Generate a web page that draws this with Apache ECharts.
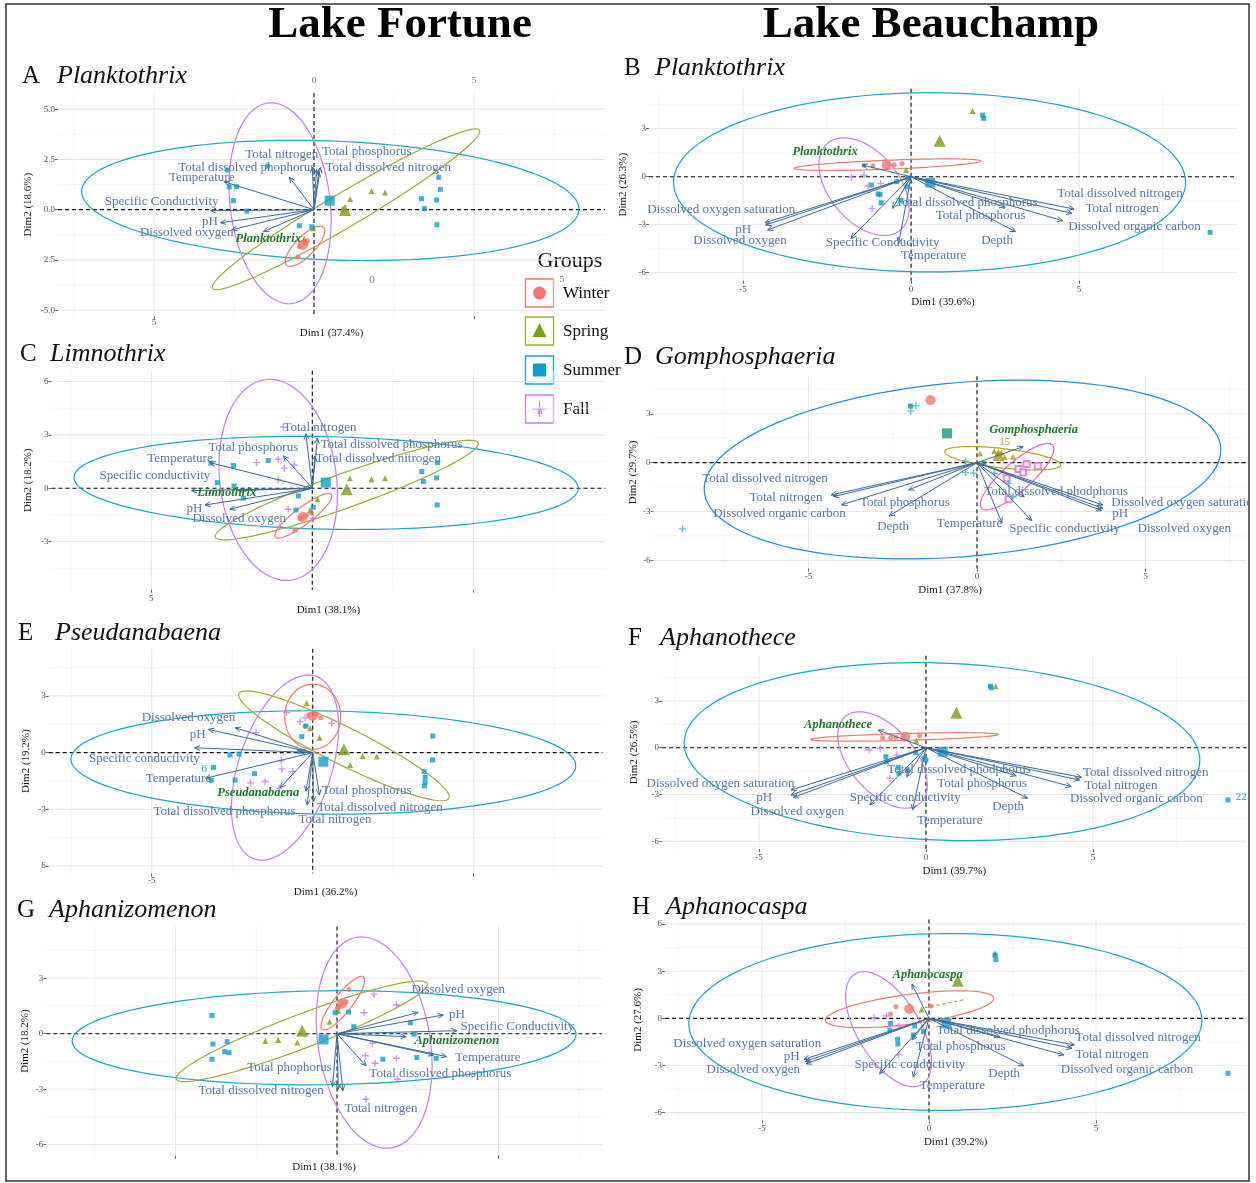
<!DOCTYPE html>
<html><head><meta charset="utf-8">
<script src="https://cdn.jsdelivr.net/npm/echarts@6.0.0/dist/echarts.min.js"></script>
<style>html,body{margin:0;padding:0;background:#fff}#c{width:1256px;height:1183px}</style>
</head><body><div id="c"></div>
<script>
// ---------------- DATA ----------------
// group index: 0 Winter, 1 Spring, 2 Summer, 3 Fall, 4 extra (+)
// Panel A  Lake Fortune - Planktothrix
const winterA = [[-0.3,-1.6],[-0.45,-1.85],[-0.25,-1.7],[-0.5,-2.35],[-0.2,-1.55]];
const springA = [[1.13,0.53],[1.8,0.93],[2.22,0.86],[0.9,0.05],[-0.02,-0.93],[-0.31,-1.46]];
const summerA = [[-2.71,1.97],[-2.65,1.14],[-2.42,1.14],[-2.52,0.45],[-2.1,-0.07],[-0.46,-0.8],[-0.07,-0.85],[-1.45,2.17],[3.9,1.61],[3.95,1.01],[3.36,0.55],[3.45,0.05],[3.83,0.48],[3.84,-0.75]];
const fallA = [];
const meansA = [[0,-0.35,-1.75],[1,0.97,-0.02],[2,0.49,0.45]];
const vecA = [[-0.05,2.12],[0.2,2.1],[0.08,2.0],[0.15,1.9],[-0.77,1.61],[-2.81,1.39],[-3.23,-0.05],[-2.92,-0.65],[-2.57,-1.0],[-1.58,-1.09]];
const labelsA = [['Total nitrogen',-1.01,2.75],['Total phosphorus',1.65,2.87],['Total dissolved phophorus',-2.1,2.1],['Total dissolved nitrogen',2.32,2.1],['Temperature',-3.51,1.61],['Specific Conductivity',-4.76,0.4],['pH',-3.25,-0.58],['Dissolved oxygen',-3.98,-1.13]];
const genusA = ['Planktothrix',-1.43,-1.46];
const ellA = [[2,0.51,0.46,7.77,-0.44,0,2.96],[1,1.0,0.02,4.05,4.0,1.03,0],[0,-0.28,-1.82,0.47,1.0,0.4,0],[3,-1.06,0.32,-0.28,5.0,1.57,0]];
const straysA = [['0',1.81,-3.5,'#777']];
const xTickA = [-5,5], xTickTextA = ['5',''];
const yTickA = [5,2.5,0,-2.5,-5], yTickTextA = ['5.0','2.5','0.0','2.5','-5.0'];

// Panel B  Lake Beauchamp - Planktothrix
const winterB = [[-1.13,0.67],[-0.27,0.83],[-1.4,0.7],[-0.5,0.75]];
const springB = [[1.83,4.1],[-0.15,0.42]];
const summerB = [[2.13,3.85],[2.16,3.65],[8.9,-3.48],[-1.18,-0.52],[-0.98,-1.08],[-0.92,-1.12],[-0.89,-1.63],[-0.3,-1.52],[-0.43,-0.31],[-0.12,-0.63],[-0.1,-0.1]];
const fallB = [[-1.77,-0.04],[-1.4,0.1],[-1.28,-0.58],[-0.91,-0.42],[-1.16,-1.98]];
const meansB = [[0,-0.73,0.73],[1,0.85,2.25],[2,0.57,-0.37]];
const vecB = [[-4.35,-2.88],[-4.33,-3.02],[-4.27,-3.33],[-1.79,-3.85],[-0.37,-4.17],[-0.55,-1.98],[2.8,-1.9],[3.11,-3.44],[4.85,-2.02],[4.79,-2.29],[4.51,-2.75],[-1.46,0.73]];
const labelsB = [['Total dissolved nitrogen',6.22,-1.08],['Total nitrogen',6.28,-1.98],['Dissolved organic carbon',6.65,-3.13],['Total dissolved phosphorus',1.65,-1.63],['Total phosphorus',2.07,-2.4],['Depth',2.56,-4.0],['Temperature',0.67,-4.9],['Specific Conductivity',-0.85,-4.13],['Dissolved oxygen saturation',-5.65,-2.04],['pH',-5.0,-3.33],['Dissolved oxygen',-5.09,-4.0]];
const genusB = ['Planktothrix',-2.56,1.56];
const ellB = [[2,0.55,-0.35,7.62,0,0,5.6],[0,-0.7,0.75,2.78,0.23,0,0.28],[3,-1.4,-0.62,-0.6,3.05,1.2,0]];
const straysB = [];

// Panel C  Lake Fortune - Limnothrix
const winterC = [[-0.28,-1.6],[-0.38,-1.7],[-0.18,-1.5],[-0.54,-2.38],[-0.02,-1.41]];
const springC = [[1.17,0.56],[1.84,0.51],[2.26,0.56],[0.16,-0.62],[-0.07,-1.22]];
const summerC = [[-3.15,1.41],[-2.45,1.28],[-2.95,0.32],[-2.43,0.13],[-2.14,-0.56],[-0.43,-0.43],[-0.51,-1.22],[0.03,-1.07],[-1.37,1.56],[3.4,0.94],[3.45,0.38],[3.89,1.44],[3.86,0.58],[3.88,-0.94]];
const fallC = [[-0.9,3.43],[-1.73,1.44],[-1.06,1.63],[-0.87,1.13],[-0.56,1.31],[-1.06,0.47],[-0.75,-1.18],[0.03,-1.69],[-1.02,-2.16]];
const meansC = [[0,-0.3,-1.62],[1,1.07,-0.06],[2,0.42,0.32]];
const vecC = [[-0.2,3.06],[0.16,2.81],[0.08,1.82],[-0.9,1.82],[-3.18,1.44],[-3.75,-0.13],[-2.3,-0.13],[-3.33,-0.94],[-2.56,-1.18]];
const labelsC = [['Total nitrogen',0.24,3.41],['Total dissolved phosphorus',2.46,2.48],['Total dissolved nitrogen',2.05,1.65],['Total phosphorus',-1.83,2.31],['Temperature',-4.11,1.69],['Specific conductivity',-4.89,0.69],['pH',-3.66,-1.13],['Dissolved oxygen',-2.27,-1.73]];
const genusC = ['Limnothrix',-2.66,-0.28];
const ellC = [[2,0.43,0.3,7.83,-0.3,0,2.6],[1,1.07,-0.1,3.8,2.8,1.5,0],[0,-0.28,-1.55,0.78,1.25,0.42,0],[3,-1.06,0.47,-0.26,5.65,1.82,0]];
const straysC = [];
const xTickC = [-5,5], xTickTextC = ['5',''];

// Panel D  Lake Beauchamp - Gomphosphaeria
const winterD = [];
const springD = [[0.09,0.57],[0.51,0.71],[0.82,0.33],[1.07,0.37],[0.6,0.55],[0.72,0.62]];
const summerD = [[-1.97,3.47],[0.2,-0.05]];
const fallD = [[1.47,-0.08],[1.8,-0.2],[1.23,-0.39],[0.88,-0.96],[0.94,-2.24],[1.37,-0.61]];
const extraD = [[-1.81,3.49],[-1.97,3.16],[-8.74,-4.06],[-0.34,-0.61],[-0.1,-0.65],[0.51,-0.65],[0.94,-1.27],[1.07,-2.08],[-0.34,0.1]];
const meansD = [[0,-1.38,3.84],[2,-0.89,1.8],[1,0.64,0.47]];
const vecD = [[-4.33,-1.98],[-4.26,-2.08],[-4.02,-2.59],[-2.03,-1.67],[-2.61,-3.27],[0.74,-3.71],[1.62,-3.55],[3.73,-2.59],[3.73,-2.8],[3.7,-2.94],[1.4,-2.1],[1.37,0.98]];
const labelsD = [['Total dissolved nitrogen',-6.29,-1.0],['Total nitrogen',-5.67,-2.12],['Dissolved organic carbon',-5.86,-3.14],['Total phosphorus',-2.14,-2.43],['Depth',-2.49,-3.92],['Temperature',-0.22,-3.71],['Specific conductivity',2.6,-4.02],['Total dissolved phodphorus',2.35,-1.78],['Dissolved oxygen saturation',6.18,-2.43],['pH',4.25,-3.14],['Dissolved oxygen',6.15,-4.02]];
const genusD = ['Gomphosphaeria',1.68,2.0];
const ellD = [[2,-0.43,-0.42,7.66,0.99,0.3,5.4],[1,0.76,0.27,1.72,-0.4,0,0.6],[3,1.19,-0.86,0.91,2.04,0.6,0]];
const straysD = [['15',0.82,1.29,'#b3a52a']];

// Panel E  Lake Fortune - Pseudanabaena
const winterE = [[0.25,1.85],[-0.24,1.38],[-0.13,2.0],[0.12,2.05]];
const springE = [[1.55,-0.18],[1.99,-0.21],[1.16,-0.65],[0.21,0.79],[-0.08,1.29],[-0.19,2.61]];
const summerE = [[3.73,0.88],[3.72,-0.39],[3.46,-1.0],[3.49,-1.31],[3.49,-1.57],[3.47,-1.76],[-2.57,-0.12],[-2.29,-0.07],[-3.08,-0.78],[-3.15,-1.48],[-2.41,-1.45],[-1.81,-1.11],[-0.41,0.05],[-0.21,1.41],[-0.34,0.85]];
const fallE = [[-0.81,2.12],[-0.24,1.85],[-0.39,1.64],[-1.76,1.06],[-0.98,-0.42],[-0.96,-0.86],[-0.62,-1.0],[-1.93,-1.59],[-1.48,-1.53],[-1.04,-1.89],[0.59,1.55]];
const meansE = [[0,0,1.94],[1,0.97,0.18],[2,0.33,-0.48]];
const vecE = [[-2.41,1.32],[-3.24,1.23],[-3.67,0.26],[-3.34,-1.36],[-1.01,-1.85],[-0.21,-2.03],[-0.17,-2.77],[0.02,-2.6],[0.21,-2.24],[-0.4,0.05]];
const labelsE = [['Dissolved oxygen',-3.86,1.85],['pH',-3.57,0.93],['Specific conductivity',-5.23,-0.34],['Temperature',-4.17,-1.39],['Total dissolved phosphorus',-2.74,-3.12],['Total phosphorus',1.68,-2.01],['Total dissolved nitrogen',2.09,-2.89],['Total nitrogen',0.69,-3.56]];
const genusE = ['Pseudanabaena',-1.69,-2.12];
const ellE = [[2,0.33,-0.52,7.84,-0.18,0,2.73],[0,0,1.9,0.87,0,0,1.72],[1,0.97,0.36,3.27,-2.69,0,1.1],[3,-0.86,-0.79,0.72,4.9,1.5,0]];
const straysE = [['6',-3.37,-0.86,'#1aa0c8']];
const xTickE = [-5,5], xTickTextE = ['-5',''];
const yTickE = [3,0,-3,-6], yTickTextE = ['3','0','-3','6'];

// Panel F  Lake Beauchamp - Aphanothece
const winterF = [[-1.06,0.64],[-1.3,0.64],[-0.19,0.77],[-0.9,0.66]];
const springF = [[2.09,3.94],[-0.29,0.45]];
const summerF = [[1.93,3.94],[1.95,3.85],[9.04,-3.35],[-0.06,-0.68],[0.0,-0.78],[-0.31,-0.32],[-0.56,-1.43],[-0.83,-1.26],[-0.81,-1.64],[-1.2,-0.58],[-1.18,-0.9]];
const fallF = [[-1.7,-0.15],[-1.37,-0.04],[-1.08,-1.96],[-0.87,-0.47]];
const meansF = [[0,-0.62,0.7],[1,0.91,2.24],[2,0.5,-0.26]];
const vecF = [[-1.43,1.13],[-4.04,-2.71],[-4.04,-3.03],[-3.98,-3.2],[-1.68,-3.67],[-0.4,-3.99],[-0.58,-1.86],[3.04,-3.24],[4.66,-1.9],[4.6,-2.07],[4.35,-2.49],[2.7,-1.8]];
const labelsF = [['Dissolved oxygen saturation',-6.15,-2.28],['pH',-4.84,-3.2],['Dissolved oxygen',-3.85,-4.09],['Specific conductivity',-0.62,-3.2],['Temperature',0.71,-4.67],['Total dissolved phodphorus',0.99,-1.43],['Total phosphorus',1.68,-2.28],['Depth',2.46,-3.77],['Total dissolved nitrogen',6.58,-1.6],['Total nitrogen',5.84,-2.45],['Dissolved organic carbon',6.3,-3.28]];
const genusF = ['Aphanothece',-2.63,1.45];
const ellF = [[2,0.48,-0.25,7.72,-0.55,0,5.68],[0,-0.64,0.69,2.81,0.16,0,0.22],[3,-1.3,-0.79,-0.69,3.09,1.15,0]];
const straysF = [['22',9.44,-3.18,'#1aa0c8']];

// Panel G  Lake Fortune - Aphanizomenon
const winterG = [[0.16,1.64],[0.06,1.45],[0.28,1.73],[0.0,1.35],[0.37,2.39]];
const springG = [[-2.22,-0.4],[-1.82,-0.34],[-1.23,-0.47],[-0.23,0.65],[0.04,1.24]];
const summerG = [[-3.87,0.99],[-3.84,-0.56],[-3.4,-0.43],[-3.48,-0.97],[-3.34,-1.03],[-3.87,-1.38],[-0.06,1.13],[0.36,1.17],[0.52,0.38],[2.27,0.59],[2.39,-0.02],[1.42,-1.38],[2.47,-1.28],[3.07,-1.33]];
const fallG = [[1.14,2.14],[0.84,1.13],[1.84,1.55],[1.1,-0.52],[0.88,-1.19],[1.18,-1.6],[1.84,-1.33],[1.87,-2.46],[0.9,-3.54]];
const meansG = [[0,0.16,1.64],[1,-1.08,0.16],[2,-0.42,-0.31]];
const vecG = [[2.51,1.15],[3.29,1.01],[3.71,0.16],[2.14,-0.16],[3.39,-1.24],[2.99,-1.15],[0.9,-1.74],[-0.14,-2.86],[0.04,-3.0],[0.18,-3.09]];
const labelsG = [['Dissolved oxygen',3.75,2.36],['pH',3.71,1.04],['Specific Conductivity',5.58,0.41],['Temperature',4.67,-1.29],['Total dissolved phosphorus',3.2,-2.14],['Total phophorus',-1.47,-1.82],['Total dissolved nitrogen',-2.35,-3.09],['Total nitrogen',1.36,-4.03]];
const genusG = ['Aphanizomenon',3.71,-0.4];
const ellG = [[2,-0.4,-0.22,7.8,0.18,0,2.54],[1,-1.09,0.13,3.63,2.72,1.4,0],[0,0.18,1.65,0.58,1.45,0.35,0],[3,1.15,-0.48,-0.39,5.71,1.75,0]];
const straysG = [];
const xTickG = [-5,5], xTickTextG = ['',''];

// Panel H  Lake Beauchamp - Aphanocaspa
const winterH = [[-0.99,0.74],[-1.15,0.28],[0.06,0.78]];
const springH = [[1.98,4.13],[-0.22,0.57]];
const summerH = [[1.98,4.03],[2.0,3.75],[8.95,-3.5],[-1.15,-0.32],[-1.17,-0.74],[-0.43,-0.49],[-0.94,-1.33],[-0.93,-1.63],[-0.47,-1.06],[-0.16,-0.85]];
const fallH = [[-1.64,0.04],[-1.27,0.15],[-0.9,-0.49],[-0.9,-2.33]];
const meansH = [[0,-0.59,0.59],[1,0.86,2.39],[2,0.52,-0.32]];
const vecH = [[-0.51,2.18],[-3.74,-2.61],[-3.7,-2.75],[-3.68,-2.9],[-1.48,-3.54],[-0.47,-3.75],[-0.51,-1.38],[2.12,-1.17],[2.84,-3.03],[4.35,-1.69],[4.28,-1.91],[4.04,-2.33]];
const labelsH = [['Dissolved oxygen saturation',-5.44,-1.59],['pH',-4.11,-2.44],['Dissolved oxygen',-5.26,-3.28],['Specific conductivity',-0.57,-2.97],['Temperature',0.7,-4.3],['Total phosphorus',0.95,-1.8],['Total dissolved phodphorus',2.37,-0.78],['Depth',2.25,-3.5],['Total dissolved nitrogen',6.26,-1.21],['Total nitrogen',5.48,-2.29],['Dissolved organic carbon',5.93,-3.28]];
const genusH = ['Aphanocaspa',-0.04,2.75];
const ellH = [[2,0.49,-0.23,7.68,0.1,0,5.63],[0,-0.58,0.58,2.52,0.69,0,0.95],[3,-1.21,-0.69,-0.74,3.66,1.05,0],[1,0.4,0.9,0.62,0.27,0,0]];
const straysH = [];

// shared ticks
const xTickR = [-5,0,5], xTickTextR = ['-5','0','5'];
const yTick3 = [6,3,0,-3,-6], yTickText3 = ['6','3','0','-3','-6'];
const xMajor = [-5,0,5], xMinor = [-7.5,-2.5,2.5,7.5];
const yMajorA = [-5,-2.5,0,2.5,5], yMinorA = [-3.75,-1.25,1.25,3.75];
const yMajor3 = [-6,-3,0,3,6], yMinor3 = [-4.5,-1.5,1.5,4.5];
const groupNames = ['Winter','Spring','Summer','Fall'];

// ---------------- LAYOUT / STYLE ----------------
const FONT = '"Liberation Serif","DejaVu Serif",serif';
const PT_COL = ['#F8766D','#7a9e14','#0fa0c8','#c77cff','#44aee3'];
const EL_COL = ['#ef7b6e','#a2aa3c','#1ba6c9','#c680ea'];
const ARROW = '#3c6a9e', LABEL = '#5779ad', GENUS = '#1f7a2e';
const PLUS = 'path://M4,0H6V4H10V6H6V10H4V6H0V4H4Z';
const FRAME_CLIP = {type:'rect', shape:{x:7, y:0, width:1241, height:1183}};

const PANELS = [
 {pts:[winterA,springA,summerA,fallA,[]],means:meansA,vec:vecA,labels:labelsA,genus:genusA,ell:ellA,strays:straysA,
  box:[58,93.1,547.2,223.1],x:[-8.0,9.1],y:[-5.3,5.8],xt:xTickA,xtt:xTickTextA,yt:yTickA,ytt:yTickTextA,ymaj:yMajorA,ymin:yMinorA,xName:'Dim1 (37.4%)',yName:'Dim2 (18.6%)',xGap:11,yGap:24,xMargin:2},
 {pts:[winterB,springB,summerB,fallB,[]],means:meansB,vec:vecB,labels:labelsB,genus:genusB,ell:ellB,strays:straysB,
  box:[649,88.7,588,192],x:[-7.8,9.7],y:[-6.5,5.5],xt:xTickR,xtt:xTickTextR,yt:yTick3,ytt:yTickText3,ymaj:yMajor3,ymin:yMinor3,xName:'Dim1 (39.6%)',yName:'Dim2 (26.3%)',xGap:16,yGap:20,xMargin:4},
 {pts:[winterC,springC,summerC,fallC,[]],means:meansC,vec:vecC,labels:labelsC,genus:genusC,ell:ellC,strays:straysC,
  box:[51.5,370.8,553.8,218.9],x:[-8.1,9.1],y:[-5.7,6.6],xt:xTickC,xtt:xTickTextC,yt:yTick3,ytt:yTickText3,ymaj:yMajor3,ymin:yMinor3,xName:'Dim1 (38.1%)',yName:'Dim2 (18.2%)',xGap:15,yGap:18,xMargin:4},
 {pts:[winterD,springD,summerD,fallD,extraD],means:meansD,vec:vecD,labels:labelsD,genus:genusD,ell:ellD,strays:straysD,
  box:[653.5,376.3,593.1,192.3],x:[-9.6,8.0],y:[-6.5,5.3],xt:xTickR,xtt:xTickTextR,yt:yTick3,ytt:yTickText3,ymaj:yMajor3,ymin:yMinor3,xName:'Dim1 (37.8%)',yName:'Dim2 (29.7%)',xGap:16,yGap:15,xMargin:4,
  pcol:{1:'#a69b17',2:'#15967a',3:'#dd6fd0'},ecol:{0:'#1f8fd6',1:'#b5a41c',2:'#1f8fd6',3:'#e065d0'},fallSym:'emptyRect'},
 {pts:[winterE,springE,summerE,fallE,[]],means:meansE,vec:vecE,labels:labelsE,genus:genusE,ell:ellE,strays:straysE,
  box:[48.7,648.7,553.8,224.9],x:[-8.2,9.0],y:[-6.4,5.5],xt:xTickE,xtt:xTickTextE,yt:yTickE,ytt:yTickTextE,ymaj:yMajor3,ymin:yMinor3,xName:'Dim1 (36.2%)',yName:'Dim2 (19.2%)',xGap:10,yGap:17,xMargin:3},
 {pts:[winterF,springF,summerF,fallF,[]],means:meansF,vec:vecF,labels:labelsF,genus:genusF,ell:ellF,strays:straysF,
  box:[662.1,655.7,584.5,193.4],x:[-7.9,9.6],y:[-6.5,5.9],xt:xTickR,xtt:xTickTextR,yt:yTick3,ytt:yTickText3,ymaj:yMajor3,ymin:yMinor3,xName:'Dim1 (39.7%)',yName:'Dim2 (26.5%)',xGap:17,yGap:22,xMargin:4},
 {pts:[winterG,springG,summerG,fallG,[]],means:meansG,vec:vecG,labels:labelsG,genus:genusG,ell:ellG,strays:straysG,
  box:[46.3,926.4,555.6,229.4],x:[-9.0,8.2],y:[-6.6,5.8],xt:xTickG,xtt:xTickTextG,yt:yTick3,ytt:yTickText3,ymaj:yMajor3,ymin:yMinor3,xName:'Dim1 (38.1%)',yName:'Dim2 (18.2%)',xGap:6,yGap:16,xMargin:3},
 {pts:[winterH,springH,summerH,fallH,[]],means:meansH,vec:vecH,labels:labelsH,genus:genusH,ell:ellH,strays:straysH,
  box:[665.1,919.4,581.2,201],x:[-7.9,9.5],y:[-6.5,6.3],xt:xTickR,xtt:xTickTextR,yt:yTick3,ytt:yTickText3,ymaj:yMajor3,ymin:yMinor3,xName:'Dim1 (39.2%)',yName:'Dim2 (27.6%)',xGap:16,yGap:21,xMargin:4}
];

// ---------------- RENDER HELPERS ----------------
function clipOf(cs){ return {type:'rect', shape:{x:cs.x, y:cs.y, width:cs.width, height:cs.height}}; }
function gridRender(params, api){
  const cs = params.coordSys;
  const v = api.value(0), dir = api.value(1), kind = api.value(2);
  let shape;
  if (dir === 0){ const p = api.coord([v, 0]); if (p[0] < cs.x || p[0] > cs.x+cs.width) return null; shape = {x1:p[0], y1:cs.y, x2:p[0], y2:cs.y+cs.height}; }
  else { const p = api.coord([0, v]); if (p[1] < cs.y || p[1] > cs.y+cs.height) return null; shape = {x1:cs.x, y1:p[1], x2:cs.x+cs.width, y2:p[1]}; }
  const style = kind === 2 ? {stroke:'#111', lineWidth:1.1, lineDash:[4,3]} :
               (kind === 0 ? {stroke:'#e6e6e6', lineWidth:1} : {stroke:'#f2f2f2', lineWidth:0.7});
  return {type:'line', shape, style, silent:true};
}
function ellipseRender(cols){
  return function(params, api){
    const cs = params.coordSys;
    const g = api.value(0), cx = api.value(1), cy = api.value(2), ux = api.value(3), uy = api.value(4), vx = api.value(5), vy = api.value(6);
    const degenerate = (vx === 0 && vy === 0);
    const n = degenerate ? 2 : 120, pts = [];
    for (let k = 0; k <= n; k++){
      const t = degenerate ? Math.PI * k / n : 2 * Math.PI * k / n;
      pts.push(api.coord([cx + ux*Math.cos(t) + vx*Math.sin(t), cy + uy*Math.cos(t) + vy*Math.sin(t)]));
    }
    return {type:'polyline', shape:{points:pts}, clipPath:clipOf(cs), silent:true,
      style:{stroke:cols[g], fill:'none', lineWidth:1.2, lineDash: degenerate ? [3,3] : null}};
  };
}
function arrowRender(params, api){
  const cs = params.coordSys;
  const o = api.coord([0,0]), e = api.coord([api.value(0), api.value(1)]);
  const ang = Math.atan2(e[1]-o[1], e[0]-o[0]), L = 6, a = 0.42;
  const h1 = [e[0]-L*Math.cos(ang-a), e[1]-L*Math.sin(ang-a)];
  const h2 = [e[0]-L*Math.cos(ang+a), e[1]-L*Math.sin(ang+a)];
  return {type:'group', clipPath:clipOf(cs), silent:true, children:[
    {type:'line', shape:{x1:o[0], y1:o[1], x2:e[0], y2:e[1]}, style:{stroke:ARROW, lineWidth:1}},
    {type:'polyline', shape:{points:[h1, e, h2]}, style:{stroke:ARROW, lineWidth:1, fill:'none'}}
  ]};
}
function labelRender(list){
  return function(params, api){
    const it = list[params.dataIndex];
    const p = api.coord([it[1], it[2]]);
    let fill = LABEL, font = '13px ' + FONT;
    if (it[3] === 1){ fill = GENUS; font = 'italic bold 12.5px ' + FONT; }
    else if (it[3] === 2){ fill = it[4]; font = '11px ' + FONT; }
    return {type:'group', clipPath:FRAME_CLIP, silent:true, children:[
      {type:'text', x:p[0], y:p[1], silent:true,
       style:{text:it[0], fill:fill, font:font, align:'center', verticalAlign:'middle'}}
    ]};
  };
}
function fmt(ticks, texts){
  return function(v){ const k = ticks.findIndex(t => Math.abs(t - v) < 1e-9); return k >= 0 ? texts[k] : ''; };
}

// ---------------- BUILD OPTION ----------------
const grids = [], xAxes = [], yAxes = [], series = [];
PANELS.forEach((p, i) => {
  grids.push({left:p.box[0], top:p.box[1], width:p.box[2], height:p.box[3], containLabel:false});
  xAxes.push({gridIndex:i, type:'value', min:p.x[0], max:p.x[1],
    axisLine:{show:false, onZero:false}, splitLine:{show:false},
    axisTick:{show:true, customValues:p.xt, length:3, lineStyle:{color:'#444', width:0.8}},
    axisLabel:{customValues:p.xt, formatter:fmt(p.xt, p.xtt), fontSize:9, color:'#555', fontFamily:FONT, margin:p.xMargin},
    name:p.xName, nameLocation:'middle', nameGap:p.xGap, nameTextStyle:{fontFamily:FONT, fontSize:11, color:'#1a1a1a'}});
  yAxes.push({gridIndex:i, type:'value', min:p.y[0], max:p.y[1],
    axisLine:{show:false, onZero:false}, splitLine:{show:false},
    axisTick:{show:true, customValues:p.yt, length:3, lineStyle:{color:'#444', width:0.8}},
    axisLabel:{customValues:p.yt, formatter:fmt(p.yt, p.ytt), fontSize:9, color:'#555', fontFamily:FONT, margin:3},
    name:p.yName, nameLocation:'middle', nameGap:p.yGap, nameRotate:90, nameTextStyle:{fontFamily:FONT, fontSize:11, color:'#1a1a1a'}});

  const gdata = [];
  xMinor.forEach(v => gdata.push([v,0,1])); p.ymin.forEach(v => gdata.push([v,1,1]));
  xMajor.forEach(v => gdata.push([v,0,0])); p.ymaj.forEach(v => gdata.push([v,1,0]));
  series.push({type:'custom', xAxisIndex:i, yAxisIndex:i, renderItem:gridRender, data:gdata, z:0, silent:true});

  const ecols = EL_COL.map((c, k) => (p.ecol && p.ecol[k]) || c);
  series.push({type:'custom', xAxisIndex:i, yAxisIndex:i, renderItem:ellipseRender(ecols), data:p.ell, z:3, silent:true});

  const pcols = PT_COL.map((c, k) => (p.pcol && p.pcol[k]) || c);
  const syms = ['circle','triangle','rect', p.fallSym || PLUS, PLUS];
  const sizes = [5,6,5, p.fallSym ? 6 : 7, 7];
  p.pts.forEach((arr, g) => {
    if (!arr.length) return;
    series.push({type:'scatter', name:(groupNames[g]||'extra'), xAxisIndex:i, yAxisIndex:i, data:arr, symbol:syms[g], symbolSize:sizes[g],
      itemStyle: syms[g] === 'emptyRect' ? {color:pcols[g], borderColor:pcols[g], borderWidth:1} : {color:pcols[g]}, z:4, silent:true});
  });
  p.means.forEach(m => {
    const g = m[0];
    series.push({type:'scatter', xAxisIndex:i, yAxisIndex:i, data:[[m[1], m[2]]], symbol:syms[g], symbolSize: g === 1 ? 12 : 10,
      itemStyle:{color:pcols[g]}, z:4, silent:true});
  });

  series.push({type:'custom', xAxisIndex:i, yAxisIndex:i, renderItem:gridRender, data:[[0,0,2],[0,1,2]], z:2, silent:true});
  series.push({type:'custom', xAxisIndex:i, yAxisIndex:i, renderItem:arrowRender, data:p.vec, z:5, silent:true});

  const lab = p.labels.map(l => [l[0], l[1], l[2], 0])
    .concat([[p.genus[0], p.genus[1], p.genus[2], 1]])
    .concat(p.strays.map(s => [s[0], s[1], s[2], 2, s[3]]));
  series.push({type:'custom', xAxisIndex:i, yAxisIndex:i, renderItem:labelRender(lab), data:lab.map(l => [l[1], l[2]]), z:6, silent:true});
});
// top stray axis labels of panel A
xAxes.push({gridIndex:0, type:'value', position:'top', min:PANELS[0].x[0], max:PANELS[0].x[1],
  axisLine:{show:false, onZero:false}, splitLine:{show:false}, axisTick:{show:false},
  axisLabel:{customValues:[0,5], formatter:fmt([0,5],['0','5']), fontSize:9, color:'#777', fontFamily:FONT, margin:8}});

// ---------------- GRAPHICS: titles, panel headings, legend, frame ----------------
const headings = [['A','Planktothrix',22,57,76],['B','Planktothrix',624,655,68],['C','Limnothrix',20,50,354],['D','Gomphosphaeria',624,655,357],
                  ['E','Pseudanabaena',18,55,633],['F','Aphanothece',628,660,638],['G','Aphanizomenon',17,49,910],['H','Aphanocaspa',632,666,907]];
const gfx = [];
gfx.push({type:'rect', shape:{x:6, y:4, width:1243, height:1177}, style:{stroke:'#333', fill:'none', lineWidth:1.5}, z:100, silent:true});
function txt(x, y, text, font, fill, align){
  return {type:'text', x:x, y:y, silent:true, style:{text:text, font:font, fill:fill||'#111', align:align||'left', verticalAlign:'middle'}};
}
gfx.push(txt(400, 25, 'Lake Fortune', 'bold 45px ' + FONT, '#000', 'center'));
gfx.push(txt(931, 25, 'Lake Beauchamp', 'bold 45px ' + FONT, '#000', 'center'));
headings.forEach(h => {
  gfx.push(txt(h[2], h[4], h[0], '25px ' + FONT, '#111', 'left'));
  gfx.push(txt(h[3], h[4], h[1], 'italic 26px ' + FONT, '#111', 'left'));
});
// legend
gfx.push(txt(570, 261, 'Groups', '22px ' + FONT, '#111', 'center'));
gfx.push(txt(562, 280, '5', '9px ' + FONT, '#777', 'center'));
const legY = [293, 331, 370, 409];
legY.forEach((cy, g) => {
  gfx.push({type:'rect', shape:{x:525.5, y:cy-14, width:28, height:28}, style:{stroke:EL_COL[g], fill:'#fff', lineWidth:1.3}, silent:true});
  if (g === 0) gfx.push({type:'circle', shape:{cx:539.5, cy:cy, r:6.5}, style:{fill:PT_COL[0]}, silent:true});
  if (g === 1) gfx.push({type:'polygon', shape:{points:[[539.5,cy-8],[546.5,cy+6],[532.5,cy+6]]}, style:{fill:PT_COL[1]}, silent:true});
  if (g === 2) gfx.push({type:'rect', shape:{x:533, y:cy-6.5, width:13, height:13}, style:{fill:PT_COL[2]}, silent:true});
  if (g === 3){
    gfx.push({type:'line', shape:{x1:532, y1:cy, x2:547, y2:cy}, style:{stroke:PT_COL[3], lineWidth:1}, silent:true});
    gfx.push({type:'line', shape:{x1:539.5, y1:cy-8, x2:539.5, y2:cy+8}, style:{stroke:PT_COL[3], lineWidth:1}, silent:true});
    gfx.push(txt(540, cy+2, 'a', '13px ' + FONT, PT_COL[3], 'center'));
  }
  gfx.push(txt(563, cy+1, groupNames[g], '17px ' + FONT, '#111', 'left'));
});

const chart = echarts.init(document.getElementById('c'), null, {renderer:'canvas'});
chart.setOption({
  backgroundColor:'#fff', animation:false,
  grid:grids, xAxis:xAxes, yAxis:yAxes, series:series, graphic:{elements:gfx}
});
</script></body></html>
